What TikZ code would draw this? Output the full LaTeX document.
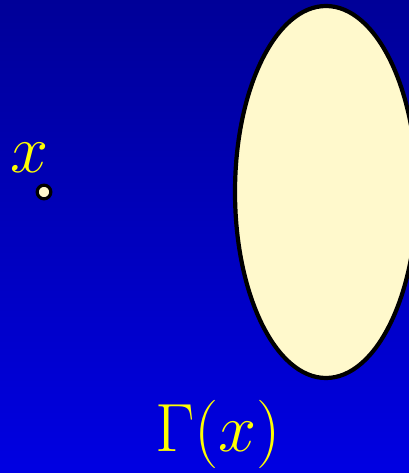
\documentclass[tikz,border=0pt]{standalone}
\usepackage{amsmath}
\usepackage{xcolor}
\usepackage{tikz}
\usetikzlibrary{positioning, shapes.geometric}

\definecolor{bgtop}{RGB}{0,0,152}
\definecolor{bgbot}{RGB}{0,0,226}
\definecolor{cream}{RGB}{255,249,204}
\definecolor{labyellow}{RGB}{255,255,0}

\begin{document}
\begin{tikzpicture}[
  x=0.75pt, y=-0.75pt,
  region/.style={draw=black, line width=3.15pt, fill=cream},
  dot/.style={circle, draw=black, line width=2.4pt, fill=cream,
              minimum size=3.6mm, inner sep=0pt},
  lbl/.style={text=labyellow, font=\Huge, scale=2.06, inner sep=0pt},
]
\useasboundingbox (0,0) rectangle (408,473);
\shade[top color=bgtop, bottom color=bgbot] (-4,0) rectangle (412,473);
% the set Gamma(x)
\coordinate (gamma) at (326,192);
\path[region] (gamma) ellipse [x radius=91, y radius=186];
\node[dot] (pt) at (44,192) {};
\node[lbl] (xlab) at (30,158) {$x$};
\node[lbl] (glab) at (218,434) {$\Gamma(x)$};
\end{tikzpicture}
\end{document}
